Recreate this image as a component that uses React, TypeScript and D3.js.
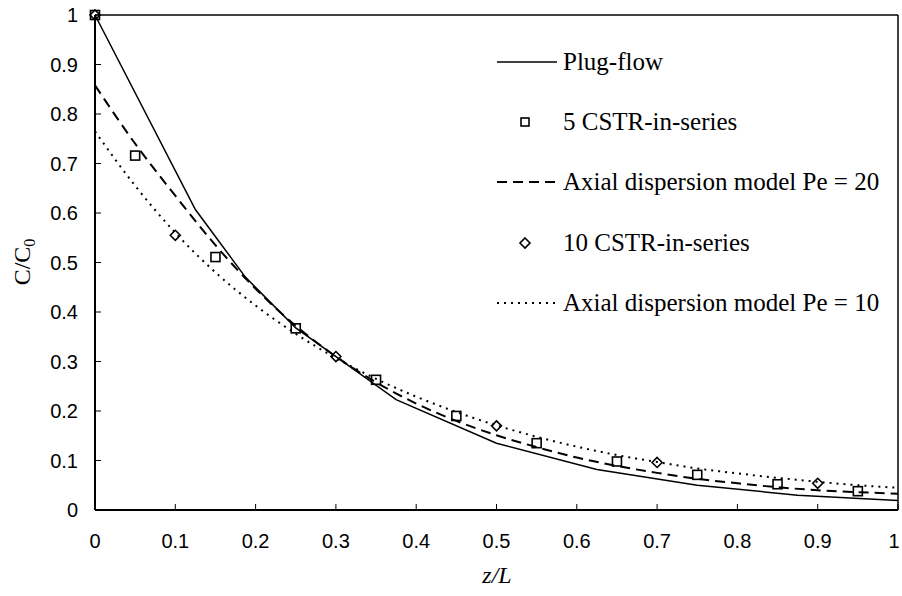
import React from "react";
import * as d3 from "d3";

// values
const plugX = [0, 0.125, 0.1875, 0.25, 0.375, 0.5, 0.625, 0.75, 0.875, 1];
const plugY = [1, 0.607, 0.47, 0.368, 0.223, 0.135, 0.082, 0.05, 0.03, 0.019];

const cstr5X = [0, 0.05, 0.15, 0.25, 0.35, 0.45, 0.55, 0.65, 0.75, 0.85, 0.95];
const cstr5Y = [1, 0.716, 0.511, 0.367, 0.263, 0.19, 0.135, 0.098, 0.071, 0.052, 0.038];

const cstr10X = [0, 0.1, 0.3, 0.5, 0.7, 0.9];
const cstr10Y = [1, 0.555, 0.31, 0.17, 0.096, 0.054];

const dispX = [0, 0.05, 0.1, 0.15, 0.2, 0.25, 0.3, 0.35, 0.4, 0.45, 0.5, 0.55, 0.6, 0.65, 0.7, 0.75, 0.8, 0.85, 0.9, 0.95, 1];
const pe20Y = [0.858, 0.74, 0.635, 0.535, 0.447, 0.372, 0.31, 0.258, 0.215, 0.18, 0.151, 0.127, 0.106, 0.089, 0.075, 0.063, 0.054, 0.046, 0.04, 0.036, 0.033];
const pe10Y = [0.765, 0.655, 0.56, 0.48, 0.413, 0.356, 0.307, 0.265, 0.229, 0.198, 0.171, 0.148, 0.128, 0.111, 0.097, 0.084, 0.074, 0.065, 0.057, 0.05, 0.045];

const xTicks = [0, 0.1, 0.2, 0.3, 0.4, 0.5, 0.6, 0.7, 0.8, 0.9, 1];
const yTicks = [0, 0.1, 0.2, 0.3, 0.4, 0.5, 0.6, 0.7, 0.8, 0.9, 1];

const legendLabels = [
  "Plug-flow",
  "5 CSTR-in-series",
  "Axial dispersion model Pe = 20",
  "10 CSTR-in-series",
  "Axial dispersion model Pe = 10",
];

const W = 902;
const H = 596;
const left = 95, right = 898, top = 15, bottom = 510;

const sans = "Arial, 'Liberation Sans', sans-serif";
const serif = "'Times New Roman', 'Liberation Serif', serif";

export default function App() {
  const x = d3.scaleLinear().domain([0, 1]).range([left, right]);
  const y = d3.scaleLinear().domain([0, 1]).range([bottom, top]);

  const zip = (xs: number[], ys: number[]) => xs.map((v, i) => [v, ys[i]] as [number, number]);

  const straight = d3.line<[number, number]>().x(d => x(d[0])).y(d => y(d[1]));
  const smooth = d3.line<[number, number]>().x(d => x(d[0])).y(d => y(d[1])).curve(d3.curveMonotoneX);

  const sq = (cx: number, cy: number, s: number, k: string) => (
    <rect key={k} x={cx - s / 2} y={cy - s / 2} width={s} height={s} fill="none" stroke="#000" strokeWidth={1.6} />
  );
  const dia = (cx: number, cy: number, s: number, k: string) => (
    <path key={k} d={`M${cx},${cy - s / 2}L${cx + s / 2},${cy}L${cx},${cy + s / 2}L${cx - s / 2},${cy}Z`} fill="none" stroke="#000" strokeWidth={1.6} />
  );

  const legX0 = 497, legX1 = 557, legText = 563;
  const legY = [62, 122, 182, 243, 303];

  return (
    <svg width={W} height={H} style={{ position: "absolute", left: 0, top: 0, background: "#fff" }}>
      <rect x={0} y={0} width={W} height={H} fill="#fff" />

      {/* series */}
      {zip(cstr5X, cstr5Y).map((d, i) => sq(x(d[0]), y(d[1]), 9, "s" + i))}
      {zip(cstr10X, cstr10Y).map((d, i) => dia(x(d[0]), y(d[1]), 10, "d" + i))}
      <path d={straight(zip(plugX, plugY)) || ""} fill="none" stroke="#000" strokeWidth={1.5} />
      <path d={smooth(zip(dispX, pe20Y)) || ""} fill="none" stroke="#000" strokeWidth={2} strokeDasharray="10 6" />
      <path d={smooth(zip(dispX, pe10Y)) || ""} fill="none" stroke="#000" strokeWidth={2} strokeDasharray="2 5" />

      {/* frame */}
      <line x1={left} x2={right} y1={top} y2={top} stroke="#000" strokeWidth={1.5} />
      <line x1={right} x2={right} y1={top} y2={bottom} stroke="#000" strokeWidth={1.5} />
      <line x1={left} x2={left} y1={top} y2={bottom} stroke="#000" strokeWidth={2} />
      <line x1={left} x2={right} y1={bottom} y2={bottom} stroke="#000" strokeWidth={2} />

      {/* ticks */}
      {xTicks.map(t => (
        <g key={"xt" + t}>
          <line x1={x(t)} x2={x(t)} y1={bottom} y2={bottom - 6} stroke="#000" strokeWidth={1} />
          <text x={t === 1 ? x(t) - 4 : x(t)} y={548} textAnchor="middle" fontFamily={sans} fontSize={20}>{String(t)}</text>
        </g>
      ))}
      {yTicks.map(t => (
        <g key={"yt" + t}>
          <line x1={left} x2={left + 6} y1={y(t)} y2={y(t)} stroke="#000" strokeWidth={1} />
          <text x={78} y={y(t) + 7} textAnchor="end" fontFamily={sans} fontSize={20}>{String(t)}</text>
        </g>
      ))}

      {/* axis titles */}
      <text x={497} y={583} textAnchor="middle" fontFamily={serif} fontStyle="italic" fontSize={24}>z/L</text>
      <text transform={`translate(30,${262}) rotate(-90)`} textAnchor="middle" fontFamily={serif} fontSize={24}>
        C/C<tspan fontSize={16} dy={5}>0</tspan>
      </text>

      {/* legend */}
      <line x1={legX0} x2={legX1} y1={legY[0]} y2={legY[0]} stroke="#000" strokeWidth={1.5} />
      {sq((legX0 + legX1) / 2 - 2, legY[1], 8, "ls")}
      <line x1={legX0} x2={legX1} y1={legY[2]} y2={legY[2]} stroke="#000" strokeWidth={2} strokeDasharray="10 6" />
      {dia((legX0 + legX1) / 2 - 2, legY[3], 10, "ld")}
      <line x1={legX0} x2={legX1} y1={legY[4]} y2={legY[4]} stroke="#000" strokeWidth={2} strokeDasharray="2 5" />
      {legendLabels.map((l, i) => (
        <text key={l} x={legText} y={legY[i] + 8} fontFamily={serif} fontSize={25}>{l}</text>
      ))}
    </svg>
  );
}
